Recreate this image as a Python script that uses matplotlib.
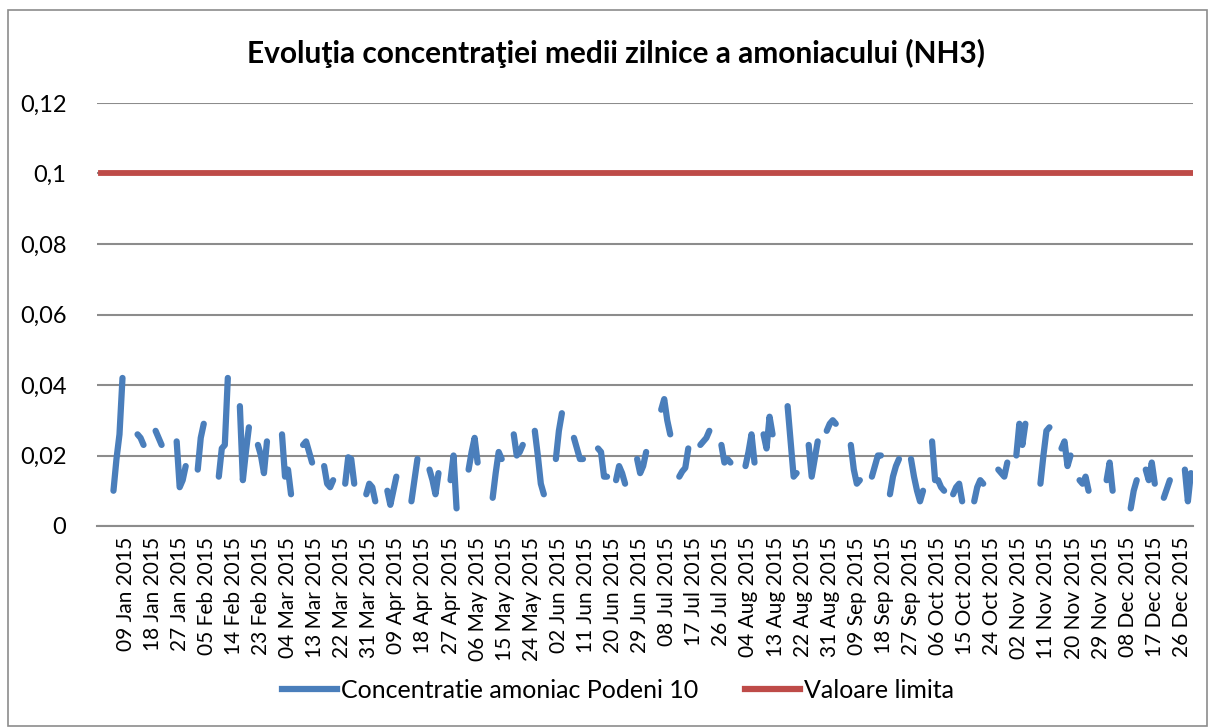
import matplotlib
matplotlib.use("Agg")
import matplotlib.pyplot as plt
import matplotlib.dates as mdates
from matplotlib.lines import Line2D
from matplotlib.patches import Rectangle
from matplotlib.ticker import FuncFormatter
import numpy as np
import pandas as pd

# Daily means, only the days that have measurements (start day-of-year + values)
seg_start = [5, 13, 19, 26, 33, 40, 47, 53, 61, 68, 75, 82, 89, 96, 104, 110,
             117, 123, 131, 138, 145, 152, 158, 166, 172, 179, 187, 193, 200,
             207, 215, 221, 229, 236, 242, 250, 257, 263, 270, 277, 284, 291,
             299, 305, 313, 320, 326, 335, 343, 348, 354, 361]
seg_values = [
    [0.010, 0.019, 0.026, 0.042], [0.026, 0.025, 0.023], [0.027, 0.025, 0.023],
    [0.024, 0.011, 0.013, 0.017], [0.016, 0.025, 0.029],
    [0.014, 0.022, 0.023, 0.042], [0.034, 0.013, 0.021, 0.028],
    [0.023, 0.020, 0.015, 0.024], [0.026, 0.014, 0.016, 0.009],
    [0.023, 0.024, 0.021, 0.018], [0.017, 0.012, 0.011, 0.013],
    [0.012, 0.0195, 0.019, 0.012], [0.009, 0.012, 0.011, 0.007],
    [0.010, 0.006, 0.010, 0.014], [0.007, 0.013, 0.019],
    [0.016, 0.013, 0.009, 0.015], [0.013, 0.020, 0.005],
    [0.016, 0.021, 0.025, 0.018], [0.008, 0.015, 0.021, 0.019],
    [0.026, 0.020, 0.021, 0.023], [0.027, 0.020, 0.012, 0.009],
    [0.019, 0.027, 0.032], [0.025, 0.022, 0.019, 0.019],
    [0.022, 0.021, 0.014, 0.014], [0.013, 0.017, 0.015, 0.012],
    [0.019, 0.015, 0.017, 0.021], [0.033, 0.036, 0.030, 0.026],
    [0.014, 0.0155, 0.0165, 0.022], [0.023, 0.024, 0.025, 0.027],
    [0.023, 0.018, 0.019, 0.018], [0.017, 0.021, 0.026, 0.018],
    [0.026, 0.022, 0.031, 0.026], [0.034, 0.024, 0.014, 0.015],
    [0.023, 0.014, 0.019, 0.024], [0.027, 0.029, 0.030, 0.029],
    [0.023, 0.016, 0.012, 0.013], [0.014, 0.017, 0.020, 0.020],
    [0.009, 0.014, 0.017, 0.019], [0.019, 0.014, 0.010, 0.007, 0.010],
    [0.024, 0.013, 0.013, 0.011, 0.010], [0.009, 0.011, 0.012, 0.007],
    [0.007, 0.011, 0.013, 0.012], [0.016, 0.015, 0.014, 0.018],
    [0.020, 0.029, 0.023, 0.029], [0.012, 0.020, 0.027, 0.028],
    [0.022, 0.024, 0.017, 0.020], [0.013, 0.012, 0.014, 0.010],
    [0.013, 0.018, 0.010], [0.005, 0.010, 0.013],
    [0.016, 0.013, 0.018, 0.012], [0.008, 0.0105, 0.013],
    [0.016, 0.007, 0.015],
]
limit_value = 0.1

title = "Evoluţia concentraţiei medii zilnice a amoniacului (NH3)"
label_conc = "Concentratie amoniac Podeni 10"
label_limit = "Valoare limita"

BLUE = "#4A7EBB"
RED = "#BE4B48"
GRID = "#8C8C8C"

plt.rcParams["font.family"] = ["Lato", "DejaVu Sans"]

days = pd.date_range("2015-01-01", "2015-12-31", freq="D")
conc = pd.Series(np.nan, index=days)
for start, vals in zip(seg_start, seg_values):
    conc.iloc[start - 1:start - 1 + len(vals)] = vals

fig = plt.figure(figsize=(12.11, 7.28), dpi=100)
ax = fig.add_axes([97 / 1211, 1 - 526 / 728, 1096 / 1211, 423 / 728])

x = mdates.date2num(conc.index)
ax.plot(x, conc.values, color=BLUE, lw=4.5, solid_capstyle="round",
        solid_joinstyle="round", zorder=3)
ax.plot(x, np.full(len(x), limit_value), color=RED, lw=4.2, zorder=3)

d0 = mdates.date2num(pd.Timestamp("2015-01-01"))
ax.set_xlim(d0 - 1.47, d0 + 362.7)
ax.set_ylim(0, 0.12)

ticks = pd.date_range("2015-01-09", "2015-12-26", freq="9D")
ax.set_xticks(mdates.date2num(ticks))
ax.set_xticklabels([t.strftime("%d %b %Y") for t in ticks], rotation=90,
                   fontsize=15)
ax.set_yticks(np.arange(0, 0.121, 0.02))
ax.yaxis.set_major_formatter(FuncFormatter(
    lambda v, p: "0" if v == 0 else f"{v:.2f}".rstrip("0").replace(".", ",")))
ax.tick_params(axis="y", labelsize=17, length=0, pad=22)
ax.tick_params(axis="x", length=0, pad=8)

ax.grid(axis="y", color=GRID, lw=1.5)
ax.set_axisbelow(True)
for s in ["top", "right", "left"]:
    ax.spines[s].set_visible(False)
ax.spines["bottom"].set_color(GRID)
ax.spines["bottom"].set_linewidth(1.5)

fig.text(616 / 1211, 1 - 53 / 728, title, ha="center", va="center",
         fontsize=21.5, fontweight="bold")

handles = [Line2D([], [], color=BLUE, lw=4.5),
           Line2D([], [], color=RED, lw=4.5)]
fig.legend(handles, [label_conc, label_limit], loc="center",
           bbox_to_anchor=(618 / 1211, 1 - 690 / 728), ncol=2, frameon=False,
           fontsize=18, handlelength=2.2, handletextpad=0.15, columnspacing=1.9)

fig.patches.append(Rectangle((8 / 1211, 2 / 728), 1199 / 1211, 716 / 728,
                             transform=fig.transFigure, fill=False,
                             edgecolor="#8C8C8C", lw=1.2))

fig.savefig("out.png", dpi=100)
